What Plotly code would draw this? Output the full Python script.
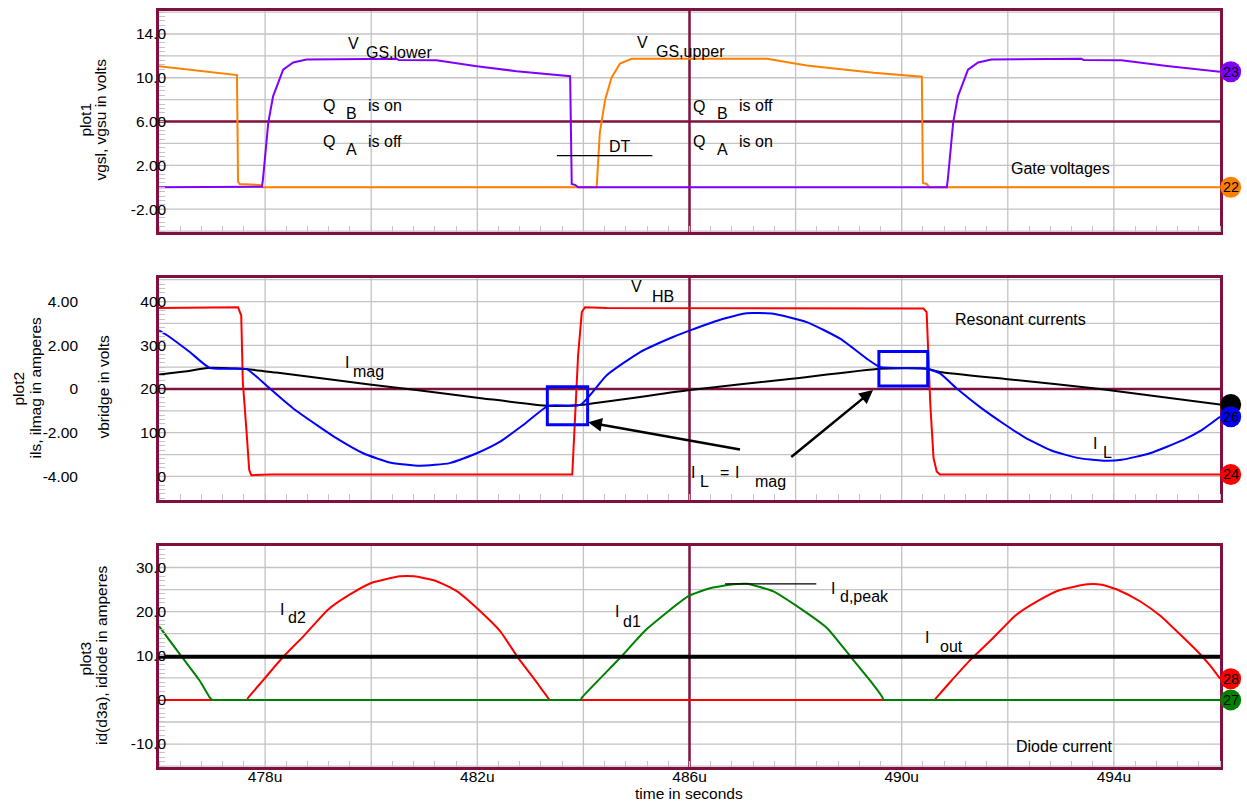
import plotly.graph_objects as go

# ---------------- data (time in microseconds) ----------------
# plot1: gate voltages (V)
t_vgsu = [476.0, 477.47, 477.49, 477.52, 477.90, 477.95, 484.25, 484.31, 484.41, 484.53,
          484.69, 484.91, 487.46, 488.21, 489.47, 490.38, 490.40, 490.47, 490.52, 496.0]
vgsu = [11.05, 10.25, 0.5, 0.3, 0.2, 0.0, 0.0, 5.0, 8.0, 10.0,
        11.3, 11.73, 11.73, 11.12, 10.45, 10.09, 0.4, 0.3, 0.0, 0.0]

t_vgsl = [476.0, 477.94, 477.96, 478.06, 478.15, 478.34, 478.53, 478.78, 480.48, 480.52,
          481.23, 481.99, 482.74, 483.75, 483.78, 483.85, 483.90, 490.85, 490.87, 490.97,
          491.06, 491.25, 491.44, 491.69, 493.39, 493.43, 494.14, 495.0, 496.0]
vgsl = [0.0, 0.05, 0.75, 5.9, 8.3, 10.75, 11.4, 11.67, 11.73, 11.62,
        11.6, 11.06, 10.6, 10.15, 0.3, 0.2, 0.0, 0.0, 0.75, 5.9,
        8.3, 10.75, 11.4, 11.67, 11.73, 11.62, 11.6, 11.08, 10.55]

# plot2: half-bridge voltage (V) and resonant currents (A)
t_vbridge = [476.0, 477.49, 477.55, 477.58, 477.65, 477.70, 477.74, 478.10, 483.79, 483.84,
             483.90, 483.97, 484.03, 484.44, 490.41, 490.47, 490.54, 490.60, 490.66, 490.72, 496.0]
vbridge = [385, 387, 368, 216, 103, 15, 3, 4.5, 4.5, 125,
           277, 376, 387, 385, 384, 376, 163, 42, 11.6, 4.5, 4.5]

t_ils = [476.0, 476.20, 476.58, 476.96, 477.65, 477.84, 478.09, 478.53, 478.97, 479.35,
         479.85, 480.35, 480.92, 481.48, 481.99, 482.43, 482.87, 483.34, 483.94, 484.44,
         485.07, 485.69, 486.01, 486.64, 487.08, 487.58, 488.21, 488.84, 489.34, 489.59,
         490.47, 490.72, 491.05, 491.49, 491.93, 492.31, 492.81, 493.31, 493.80, 494.15,
         494.68, 495.31, 495.63, 496.0]
ils = [2.68, 2.38, 1.69, 0.96, 0.91, 0.56, 0.02, -0.89, -1.64, -2.26,
       -2.94, -3.36, -3.51, -3.39, -2.94, -2.41, -1.64, -0.77, -0.73, 0.63,
       1.69, 2.38, 2.68, 3.21, 3.47, 3.44, 3.06, 2.30, 1.39, 1.01,
       0.93, 0.71, 0.0, -0.85, -1.60, -2.20, -2.80, -3.15, -3.28, -3.24,
       -2.94, -2.33, -1.92, -1.27]

t_ilmag = [476.0, 476.48, 476.96, 477.65, 478.21, 479.97, 480.85, 482.11, 483.34, 483.94,
           486.01, 487.93, 489.59, 490.47, 490.72, 492.0, 493.74, 496.0]
ilmag = [0.66, 0.80, 0.97, 0.91, 0.75, 0.21, -0.05, -0.43, -0.77, -0.73,
         -0.05, 0.47, 0.93, 0.93, 0.78, 0.45, 0.0, -0.71]

# plot3: diode currents (A)
t_id1 = [476.0, 476.42, 476.77, 476.96, 477.0, 477.1, 483.85, 483.95, 483.97, 484.69,
         485.19, 485.98, 486.39, 486.83, 487.08, 487.58, 488.08, 488.59, 489.03, 489.41,
         489.63, 489.66, 489.76, 495.9, 496.0]
id1 = [16.7, 9.9, 4.3, 0.5, 0.0, 0.0, 0.0, 0.0, 0.5, 9.5,
       16.0, 23.5, 25.3, 26.2, 26.3, 24.6, 20.8, 16.3, 9.9, 4.3,
       0.7, 0.0, 0.0, 0.0, 0.0]

t_id2 = [476.0, 476.1, 477.56, 477.66, 477.68, 477.98, 478.32, 478.72, 479.19, 479.60,
         480.0, 480.54, 480.81, 481.21, 481.62, 482.02, 482.43, 482.76, 483.10, 483.33,
         483.36, 483.46, 490.52, 490.62, 490.64, 490.94, 491.28, 491.68, 492.15, 492.56,
         492.96, 493.50, 493.77, 494.10, 494.50, 494.88, 495.25, 495.63, 495.82, 496.0]
id2 = [0.0, 0.0, 0.0, 0.0, 0.5, 4.7, 9.5, 14.4, 20.5, 23.9,
       26.5, 28.0, 28.0, 27.0, 24.6, 20.5, 15.6, 9.7, 4.3, 0.5,
       0.0, 0.0, 0.0, 0.0, 0.3, 4.4, 8.9, 13.5, 19.2, 22.4,
       24.8, 26.2, 26.1, 24.8, 22.3, 19.0, 14.8, 10.3, 7.7, 4.8]

t_iout = [476.0, 496.0]
iout = [9.8, 9.8]

x_ticks = [476, 478, 480, 482, 484, 486, 488, 490, 492, 494, 496]
x_labels = ["", "478u", "", "482u", "", "486u", "", "490u", "", "494u", ""]

y1_ticks = [-4, -2, 0, 2, 4, 6, 8, 10, 12, 14, 16]
y1_labels = ["", "-2.00", "", "2.00", "", "6.00", "", "10.0", "", "14.0", ""]
y2_ticks = [0, 50, 100, 150, 200, 250, 300, 350, 400, 450]
y2_labels = ["0", "", "100", "", "200", "", "300", "", "400", ""]
y3_ticks = [-4, -2, 0, 2, 4]
y3_labels = ["-4.00", "-2.00", "0", "2.00", "4.00"]
y4_ticks = [-15, -10, -5, 0, 5, 10, 15, 20, 25, 30]
y4_labels = ["", "-10.0", "", "0", "", "10.0", "", "20.0", "", "30.0"]

# ---------------- styling ----------------
MAROON = "#80103f"
GRID = "#c3c3c3"
ORANGE = "#ff8000"
PURPLE = "#8000ff"
RED = "#ff0000"
BLUE = "#0000ff"
GREEN = "#008000"
FONT = "Liberation Sans, Arial, Helvetica, sans-serif"

# plot area in page pixels (body margin is removed by the post script)
L, R, T, B = 159.0, 1220.0, 8.0, 767.0
FIG_W, FIG_H = 1247, 804
X_RANGE = [476, 496]
Y1_RANGE = [-4.1, 16.1]
Y2_RANGE = [-54, 454]
Y3_RANGE = [-5.08, 5.08]
Y4_RANGE = [-15.2, 34.9]


def P(px, py):
    return (px - L) / (R - L), (B - py) / (B - T)


fig = go.Figure()


def line(x, y, color, xa, ya, width=2.0, smooth=False):
    ln = dict(color=color, width=width)
    if smooth:
        ln.update(shape="spline", smoothing=0.5)
    fig.add_trace(go.Scatter(x=x, y=y, mode="lines", xaxis=xa, yaxis=ya,
                             line=ln, hoverinfo="skip"))


line(t_vgsu, vgsu, ORANGE, "x", "y")
line(t_vgsl, vgsl, PURPLE, "x", "y")
line(t_vbridge, vbridge, RED, "x2", "y2")
line(t_ilmag, ilmag, "black", "x2", "y3", smooth=True)
line(t_ils, ils, BLUE, "x2", "y3", smooth=True)
line(t_id2, id2, RED, "x3", "y4", smooth=True)
line(t_id1, id1, GREEN, "x3", "y4", smooth=True)
line(t_iout, iout, "black", "x3", "y4", width=4)

minor_x = dict(tickmode="linear", tick0=476, dtick=0.4, ticks="inside", ticklen=6,
               tickcolor=GRID, tickwidth=1, showgrid=False)


def xax(show_labels):
    return dict(range=X_RANGE, showline=True, linecolor=MAROON, linewidth=2.5, mirror=True,
                showgrid=False, zeroline=False,
                tickmode="array", tickvals=x_ticks, ticktext=x_labels, ticks="",
                showticklabels=show_labels, minor=minor_x, ticklabelstandoff=-6,
                tickfont=dict(size=15.5, family=FONT, color="black"))


def yax(domain, rng, tv, tt, mdt, mt0, anchor):
    return dict(domain=domain, range=rng, anchor=anchor, showline=True, linecolor=MAROON,
                linewidth=2.5, mirror=True, showgrid=False,
                zeroline=False, tickmode="array", tickvals=tv, ticktext=tt, ticks="",
                ticklabelstandoff=-13,
                tickfont=dict(size=15.5, family=FONT, color="black"),
                minor=dict(tickmode="linear", tick0=mt0, dtick=mdt, ticks="inside", ticklen=6,
                           tickcolor=GRID, tickwidth=1, showgrid=False))


d_top = [(B - 230) / (B - T), 1.0]
d_mid = [(B - 499) / (B - T), (B - 276) / (B - T)]
d_bot = [0.0, (B - 545) / (B - T)]

fig.update_layout(
    width=FIG_W, height=FIG_H,
    margin=dict(l=int(L), r=FIG_W - int(R), t=int(T), b=FIG_H - int(B)),
    paper_bgcolor="white", plot_bgcolor="white", showlegend=False,
    font=dict(family=FONT, size=15.5, color="black"),
    xaxis=dict(xax(False), anchor="y"),
    xaxis2=dict(xax(False), anchor="y2", matches="x"),
    xaxis3=dict(xax(True), anchor="y4", matches="x"),
    yaxis=yax(d_top, Y1_RANGE, y1_ticks, y1_labels, 0.4, 0, "x"),
    yaxis2=yax(d_mid, Y2_RANGE, y2_ticks, y2_labels, 10, 0, "x2"),
    yaxis3=dict(overlaying="y2", anchor="free", position=0, shift=-81, side="left",
                range=Y3_RANGE, tickmode="array", tickvals=y3_ticks, ticktext=y3_labels,
                showgrid=False, showline=False, zeroline=False, ticks="",
                tickfont=dict(size=15.5, family=FONT, color="black")),
    yaxis4=yax(d_bot, Y4_RANGE, y4_ticks, y4_labels, 1, 0, "x3"),
)

shapes = []
panels = [("x", "y", y1_ticks, Y1_RANGE), ("x2", "y2", y2_ticks, Y2_RANGE),
          ("x3", "y4", y4_ticks, Y4_RANGE)]
# grey grid (drawn as shapes so the maroon centre lines can sit on top of it)
for xa, ya, yt, yr in panels:
    yc = (yr[0] + yr[1]) / 2
    for xv in x_ticks:
        if X_RANGE[0] < xv < X_RANGE[1] and xv != (X_RANGE[0] + X_RANGE[1]) / 2:
            shapes.append(dict(type="line", xref=xa, yref=ya + " domain", x0=xv, x1=xv,
                               y0=0, y1=1, line=dict(color=GRID, width=1.3), layer="below"))
    for yv in yt:
        if yr[0] < yv < yr[1] and abs(yv - yc) > 1e-6:
            shapes.append(dict(type="line", xref=xa + " domain", yref=ya, x0=0, x1=1,
                               y0=yv, y1=yv, line=dict(color=GRID, width=1.3), layer="below"))
# maroon centre cross-hairs
for xa, ya, yt, yr in panels:
    yc = (yr[0] + yr[1]) / 2
    xc = (X_RANGE[0] + X_RANGE[1]) / 2
    shapes.append(dict(type="line", xref=xa, yref=ya + " domain", x0=xc, x1=xc, y0=0, y1=1,
                       line=dict(color=MAROON, width=2.5), layer="below"))
    shapes.append(dict(type="line", xref=xa + " domain", yref=ya, x0=0, x1=1, y0=yc, y1=yc,
                       line=dict(color=MAROON, width=2.5), layer="below"))
# blue boxes where I_L = I_mag
shapes.append(dict(type="rect", xref="x2", yref="y2", x0=483.32, x1=484.08, y0=118, y1=205,
                   line=dict(color=BLUE, width=3), layer="above"))
shapes.append(dict(type="rect", xref="x2", yref="y2", x0=489.57, x1=490.49, y0=207, y1=286,
                   line=dict(color=BLUE, width=3), layer="above"))
# DT marker line and Id,peak line
shapes.append(dict(type="line", xref="x", yref="y", x0=483.50, x1=485.30, y0=2.88, y1=2.88,
                   line=dict(color="black", width=1.3), layer="above"))
shapes.append(dict(type="line", xref="x3", yref="y4", x0=486.67, x1=488.39, y0=26.3, y1=26.3,
                   line=dict(color="black", width=1.3), layer="above"))

ann = []

# trace-end tags on the right border (paper coordinates, so they are not clipped)
TAG_X = (1230.7 - L) / (R - L)


def to_paper(v, rng, dom):
    return dom[0] + (v - rng[0]) / (rng[1] - rng[0]) * (dom[1] - dom[0])


for yser, color, label, rng, dom in [(vgsl, PURPLE, "23", Y1_RANGE, d_top),
                                     (vgsu, ORANGE, "22", Y1_RANGE, d_top),
                                     (ilmag, "black", "", Y3_RANGE, d_mid),
                                     (ils, BLUE, "26", Y3_RANGE, d_mid),
                                     (vbridge, RED, "24", Y2_RANGE, d_mid),
                                     (id2, RED, "28", Y4_RANGE, d_bot),
                                     (id1, GREEN, "27", Y4_RANGE, d_bot)]:
    yp = to_paper(yser[-1], rng, dom)
    shapes.append(dict(type="circle", xref="paper", yref="paper", xsizemode="pixel",
                       ysizemode="pixel", xanchor=TAG_X, yanchor=yp,
                       x0=-10.5, x1=10.5, y0=-10.5, y1=10.5, fillcolor=color,
                       line=dict(width=0), layer="above"))
    if label:
        ann.append(dict(text=label, x=TAG_X, y=yp, xref="paper", yref="paper",
                        xanchor="center", yanchor="middle", showarrow=False,
                        font=dict(size=14.5, family=FONT, color="black")))

fig.update_layout(shapes=shapes)


def txt(s, px, py, xanchor="center", size=16, angle=0):
    x, y = P(px, py)
    ann.append(dict(text=s, x=x, y=y, xref="paper", yref="paper", xanchor=xanchor,
                    yanchor="middle", showarrow=False, textangle=angle,
                    font=dict(size=size, family=FONT, color="black")))


# plot1 labels
txt("V", 353, 40.5); txt("GS,lower", 399, 50)
txt("V", 642, 39.5); txt("GS,upper", 690, 49)
txt("Q", 328.5, 103); txt("B", 351.3, 110.5); txt("is on", 385, 102.5)
txt("Q", 328.5, 139); txt("A", 351.3, 147); txt("is off", 385, 139)
txt("Q", 699, 103.5); txt("B", 722, 111); txt("is off", 756.3, 103)
txt("Q", 699, 139.5); txt("A", 722, 147.5); txt("is on", 756.3, 139.5)
txt("DT", 620, 144)
txt("Gate voltages", 1112, 166.5, xanchor="right")
# plot2 labels
txt("V", 636, 285); txt("HB", 663.3, 294.7)
txt("Resonant currents", 1020, 318)
txt("I", 347, 361); txt("mag", 368, 370)
txt("I", 693.3, 471.7); txt("L", 704, 480); txt("=", 724, 471.7); txt("I", 736.7, 471.7)
txt("mag", 770, 480.5)
txt("I", 1095, 442); txt("L", 1107, 451)
# plot3 labels
txt("I", 282, 609); txt("d2", 297, 617)
txt("I", 617, 611); txt("d1", 632, 620.5)
txt("I", 833.3, 587.5); txt("d,peak", 864, 596)
txt("I", 927, 637); txt("out", 951, 646)
txt("Diode current", 1115, 746, xanchor="right")
# axis titles
txt("plot1", 86, 117, size=15.5, angle=-90)
txt("vgsl, vgsu in volts", 101, 117, size=15.5, angle=-90)
txt("plot2", 19, 387, size=15.5, angle=-90)
txt("ils, ilmag in amperes", 36, 386, size=15.5, angle=-90)
txt("vbridge in volts", 104, 385, size=15.5, angle=-90)
txt("plot3", 85, 658, size=15.5, angle=-90)
txt("id(d3a), idiode in amperes", 101.5, 655, size=15.5, angle=-90)
txt("time in seconds", 689, 794, size=15.5)

# arrows pointing at the I_L = I_mag boxes
for hx, hy, tx, ty in [(484.09, 123.7, 486.98, 60.8), (489.46, 197.5, 487.89, 41.7)]:
    ann.append(dict(x=hx, y=hy, ax=tx, ay=ty, xref="x2", yref="y2", axref="x2", ayref="y2",
                    text="", showarrow=True, arrowhead=2, arrowsize=1.1, arrowwidth=2.5,
                    arrowcolor="black"))

fig.update_layout(annotations=ann)
fig.write_html(
    "out.html",
    config={"displayModeBar": False},
    post_script=("document.documentElement.style.margin='0';"
                 "document.body.style.margin='0';"
                 "document.documentElement.style.overflow='hidden';"
                 "document.body.style.overflow='hidden';"),
)
